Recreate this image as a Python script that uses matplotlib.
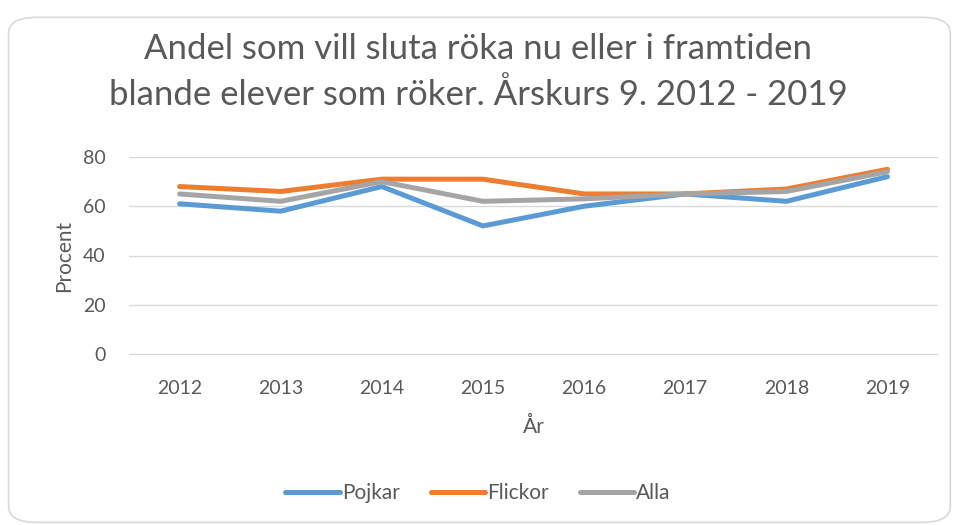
import matplotlib.pyplot as plt
from matplotlib.patches import FancyBboxPatch

years = ["2012", "2013", "2014", "2015", "2016", "2017", "2018", "2019"]
pojkar = [61, 58, 68, 52, 60, 65, 62, 72]
flickor = [68, 66, 71, 71, 65, 65, 67, 75]
alla = [65, 62, 70, 62, 63, 65, 66, 74]

plt.rcParams['font.family'] = ['Lato', 'DejaVu Sans']
text_color = "#595959"

fig = plt.figure(figsize=(9.56, 5.25), dpi=100)
border = FancyBboxPatch((0.009, 0.005), 0.985, 0.962, boxstyle="round,pad=0,rounding_size=0.03",
                        transform=fig.transFigure, facecolor="white", edgecolor="#D9D9D9", lw=1.2,
                        zorder=-10)
fig.patches.append(border)

ax = fig.add_axes([129 / 956, 1 - 354 / 525, (938 - 129) / 956, (354 - 157) / 525])
ax.set_facecolor("none")
x = range(len(years))
ax.plot(x, pojkar, color="#5B9BD5", lw=3.6, label="Pojkar", solid_capstyle="round")
ax.plot(x, flickor, color="#ED7D31", lw=3.6, label="Flickor", solid_capstyle="round")
ax.plot(x, alla, color="#A5A5A5", lw=3.6, label="Alla", solid_capstyle="round")

ax.set_xlim(-0.5, len(years) - 0.5)
ax.set_ylim(0, 80)
ax.set_yticks([0, 20, 40, 60, 80])
ax.set_xticks(list(x))
ax.set_xticklabels(years)
ax.grid(axis="y", color="#D9D9D9", lw=1)
ax.set_axisbelow(True)
for s in ["top", "right", "left"]:
    ax.spines[s].set_visible(False)
ax.spines["bottom"].set_color("#D9D9D9")
ax.tick_params(length=0, labelsize=14, colors=text_color, pad=19)
ax.tick_params(axis="y", pad=17)

ax.set_xlabel("År", fontsize=15, color=text_color, labelpad=14)
ax.set_ylabel("Procent", fontsize=15, color=text_color, labelpad=6)

fig.text(0.5, 1 - 72 / 525, "Andel som vill sluta röka nu eller i framtiden\nblande elever som röker. Årskurs 9. 2012 - 2019",
         ha="center", va="center", fontsize=25, color=text_color, linespacing=1.47)

fig.legend(loc="center", bbox_to_anchor=(0.5, 1 - 493 / 525), ncol=3, frameon=False,
           fontsize=15, labelcolor=text_color, handlelength=2.6, handletextpad=0.1, columnspacing=1.5)

fig.savefig("out.png", dpi=100)
